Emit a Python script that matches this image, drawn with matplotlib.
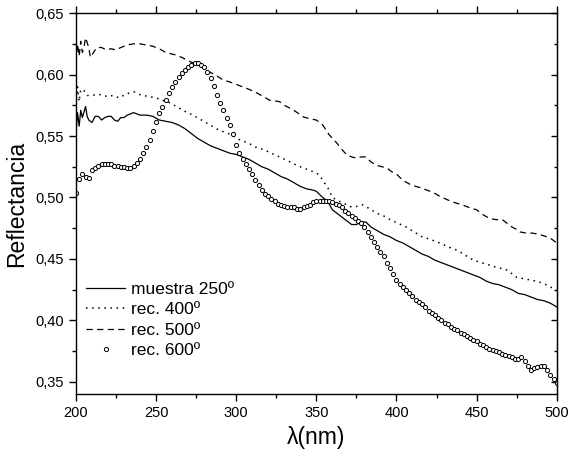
import numpy as np
import matplotlib
matplotlib.use('Agg')
import matplotlib.pyplot as plt
from matplotlib.ticker import MultipleLocator, FuncFormatter

plt.rcParams['font.family'] = ['Liberation Sans', 'DejaVu Sans']

# muestra 250º (solid line)
wl_m250 = [200, 201, 202, 203, 204, 206, 207, 208, 210, 212, 214, 216, 218, 220, 222, 224,
           226, 228, 230, 232, 234, 236, 240, 244, 248, 252, 256, 260, 264, 268, 272, 276,
           280, 284, 288, 292, 296, 300, 304, 308, 312, 316, 320, 324, 328, 332, 336, 340,
           344, 348, 350, 354, 357, 360, 364, 368, 372, 375, 378, 381, 384, 388, 392, 396,
           400, 404, 408, 412, 416, 420, 424, 428, 432, 436, 440, 444, 448, 452, 456, 460,
           464, 468, 472, 476, 480, 484, 488, 492, 496, 500]
r_m250 = [0.552, 0.569, 0.558, 0.571, 0.565, 0.574, 0.566, 0.563, 0.561, 0.566, 0.566, 0.563,
          0.565, 0.566, 0.566, 0.563, 0.562, 0.565, 0.565, 0.567, 0.568, 0.569, 0.567, 0.567,
          0.566, 0.563, 0.562, 0.561, 0.559, 0.556, 0.552, 0.548, 0.545, 0.542, 0.540, 0.538,
          0.536, 0.535, 0.533, 0.531, 0.528, 0.525, 0.523, 0.520, 0.517, 0.515, 0.512, 0.509,
          0.507, 0.506, 0.505, 0.500, 0.497, 0.490, 0.486, 0.482, 0.478, 0.478, 0.480, 0.480,
          0.476, 0.473, 0.470, 0.468, 0.465, 0.463, 0.460, 0.457, 0.454, 0.452, 0.449, 0.447,
          0.445, 0.443, 0.441, 0.439, 0.437, 0.435, 0.432, 0.430, 0.429, 0.427, 0.425, 0.422,
          0.421, 0.419, 0.417, 0.416, 0.414, 0.411]

# rec. 400º (dotted)
wl_r400 = [200, 201, 202, 203, 205, 207, 210, 214, 217, 220, 223, 227, 231, 236, 239, 242,
           246, 250, 254, 257, 260, 264, 268, 273, 277, 281, 285, 289, 293, 297, 302, 308,
           312, 317, 322, 327, 332, 338, 342, 346, 350, 352, 355, 357, 360, 364, 367, 370,
           373, 376, 379, 383, 388, 392, 396, 401, 406, 411, 416, 421, 427, 432, 438, 443,
           448, 453, 458, 463, 469, 475, 479, 483, 487, 491, 495, 499, 500]
r_r400 = [0.575, 0.590, 0.578, 0.588, 0.587, 0.583, 0.583, 0.584, 0.583, 0.582, 0.583, 0.581,
          0.584, 0.586, 0.584, 0.583, 0.582, 0.581, 0.579, 0.578, 0.576, 0.573, 0.570, 0.567,
          0.564, 0.561, 0.558, 0.555, 0.553, 0.551, 0.547, 0.544, 0.541, 0.539, 0.536, 0.533,
          0.530, 0.526, 0.524, 0.522, 0.520, 0.518, 0.512, 0.5085, 0.500, 0.497, 0.4955, 0.493,
          0.492, 0.493, 0.494, 0.491, 0.487, 0.485, 0.482, 0.479, 0.476, 0.472, 0.468, 0.466,
          0.463, 0.460, 0.457, 0.453, 0.449, 0.447, 0.445, 0.443, 0.441, 0.435, 0.434, 0.433,
          0.432, 0.4305, 0.428, 0.425, 0.424]

# rec. 500º (dashed)
wl_r500 = [200, 201, 202, 203, 204, 205, 206, 208, 209, 211, 213, 216, 219, 222, 225, 228,
           232, 236, 240, 244, 248, 252, 256, 259, 262, 266, 269, 272, 275, 278, 282, 285,
           289, 292, 296, 300, 304, 308, 313, 317, 321, 327, 330, 333, 337, 342, 346, 350,
           354, 358, 363, 366, 369, 372, 375, 378, 381, 384, 388, 391, 394, 397, 400, 404,
           408, 412, 415, 419, 423, 427, 432, 436, 441, 445, 450, 454, 458, 462, 466, 469,
           472, 475, 477, 481, 485, 489, 494, 497, 500]
r_r500 = [0.610, 0.625, 0.615, 0.627, 0.618, 0.622, 0.630, 0.622, 0.614, 0.618, 0.622, 0.622,
          0.620, 0.621, 0.620, 0.622, 0.624, 0.625, 0.625, 0.624, 0.623, 0.621, 0.618, 0.617,
          0.616, 0.614, 0.612, 0.610, 0.609, 0.607, 0.603, 0.601, 0.598, 0.5955, 0.594, 0.592,
          0.590, 0.588, 0.585, 0.582, 0.579, 0.578, 0.575, 0.573, 0.570, 0.5655, 0.564, 0.563,
          0.559, 0.551, 0.544, 0.539, 0.5346, 0.533, 0.532, 0.533, 0.533, 0.529, 0.526, 0.525,
          0.524, 0.521, 0.519, 0.514, 0.511, 0.509, 0.508, 0.506, 0.504, 0.501, 0.498, 0.496,
          0.494, 0.492, 0.490, 0.486, 0.483, 0.482, 0.482, 0.479, 0.476, 0.474, 0.472, 0.471,
          0.471, 0.470, 0.468, 0.466, 0.463]

# rec. 600º (open circles, every 2 nm)
wl_r600 = list(range(200, 501, 2))
r_r600 = [0.504, 0.515, 0.519, 0.517, 0.516, 0.522, 0.524, 0.526, 0.527, 0.527, 0.527, 0.527,
          0.526, 0.526, 0.525, 0.525, 0.524, 0.524, 0.526, 0.528, 0.531, 0.536, 0.541, 0.547,
          0.554, 0.561, 0.569, 0.574, 0.579, 0.585, 0.590, 0.594, 0.598, 0.601, 0.604, 0.606,
          0.608, 0.609, 0.609, 0.608, 0.606, 0.602, 0.597, 0.591, 0.583, 0.577, 0.571, 0.565,
          0.559, 0.552, 0.543, 0.536, 0.531, 0.527, 0.523, 0.519, 0.514, 0.510, 0.506, 0.503,
          0.501, 0.499, 0.497, 0.495, 0.494, 0.493, 0.492, 0.492, 0.492, 0.491, 0.491, 0.492,
          0.493, 0.494, 0.496, 0.497, 0.497, 0.497, 0.497, 0.497, 0.496, 0.495, 0.494, 0.492,
          0.489, 0.487, 0.485, 0.483, 0.481, 0.479, 0.476, 0.472, 0.468, 0.464, 0.460, 0.456,
          0.452, 0.447, 0.443, 0.438, 0.433, 0.430, 0.427, 0.425, 0.422, 0.420, 0.417, 0.415,
          0.413, 0.411, 0.408, 0.406, 0.404, 0.402, 0.400, 0.398, 0.397, 0.395, 0.393, 0.392,
          0.390, 0.389, 0.387, 0.386, 0.384, 0.383, 0.381, 0.380, 0.378, 0.377, 0.376, 0.375,
          0.374, 0.373, 0.372, 0.371, 0.370, 0.369, 0.369, 0.370, 0.367, 0.363, 0.360, 0.361,
          0.362, 0.363, 0.363, 0.360, 0.356, 0.352, 0.349]

labels = ['muestra 250º', 'rec. 400º', 'rec. 500º', 'rec. 600º']

fig = plt.figure(figsize=(5.71, 4.51), dpi=100)
ax = fig.add_axes([0.133, 0.126, 0.842, 0.845])

ax.plot(wl_m250, r_m250, '-', color='black', lw=0.9, label=labels[0])
ax.plot(wl_r400, r_r400, color='black', lw=1.1, linestyle=(0, (1, 3)), label=labels[1])
ax.plot(wl_r500, r_r500, color='black', lw=0.9, linestyle=(0, (5, 3.5)), label=labels[2])
ax.plot(wl_r600, r_r600, 'o', mfc='white', mec='black', mew=0.7, ms=3.0, label=labels[3])

ax.set_xlim(200, 500)
ax.set_ylim(0.34, 0.65)
ax.xaxis.set_major_locator(MultipleLocator(50))
ax.xaxis.set_minor_locator(MultipleLocator(25))
ax.yaxis.set_major_locator(MultipleLocator(0.05))
ax.yaxis.set_minor_locator(MultipleLocator(0.025))
ax.yaxis.set_major_formatter(FuncFormatter(lambda v, p: f'{v:.2f}'.replace('.', ',')))

ax.tick_params(which='both', direction='out', top=True, right=False, labelsize=10.5, width=1)
ax.tick_params(which='major', length=5)
ax.tick_params(which='minor', length=3)

# right side: ticks pointing inwards, no labels
sec = ax.secondary_yaxis('right')
sec.yaxis.set_major_locator(MultipleLocator(0.05))
sec.yaxis.set_minor_locator(MultipleLocator(0.025))
sec.tick_params(which='both', direction='in', labelright=False, width=1)
sec.tick_params(which='major', length=4)
sec.tick_params(which='minor', length=2.5)
for s in ax.spines.values():
    s.set_linewidth(1.0)

ax.set_xlabel('λ(nm)', fontsize=16.5, labelpad=4)
ax.set_ylabel('Reflectancia', fontsize=16.5, labelpad=5)

ax.legend(loc='upper left', bbox_to_anchor=(0.02, 0.295), frameon=False, fontsize=12.5,
          handlelength=2.3, handletextpad=0.3, labelspacing=0.3, numpoints=1,
          borderaxespad=0, borderpad=0)

fig.savefig('out.png', dpi=100)
